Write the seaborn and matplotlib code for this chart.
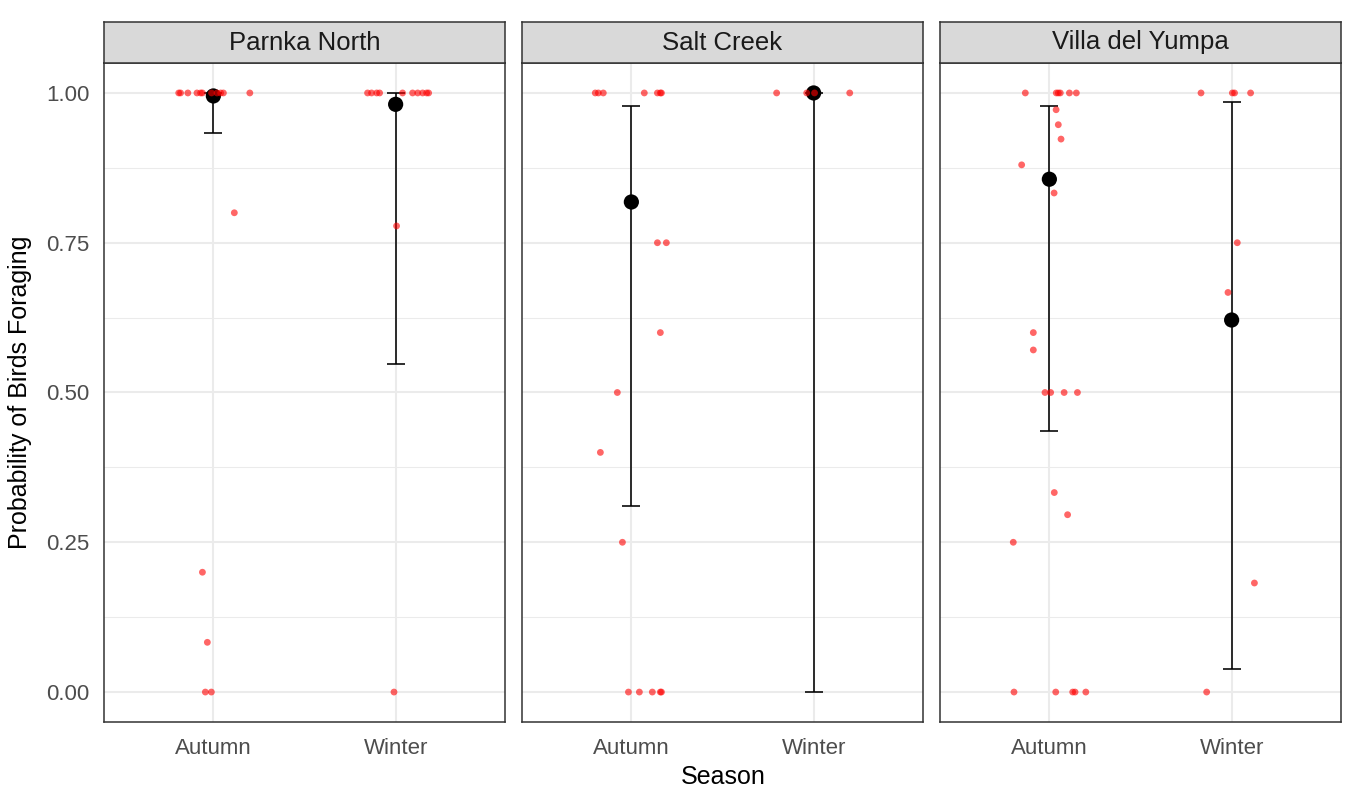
import numpy as np
import pandas as pd
import matplotlib
matplotlib.use("Agg")
import matplotlib.pyplot as plt
from matplotlib.ticker import FixedLocator
import seaborn as sns

sns.set_theme(style="white")
plt.rcParams["font.family"] = ["Liberation Sans", "DejaVu Sans"]

sites = ["Parnka North", "Salt Creek", "Villa del Yumpa"]
seasons = ["Autumn", "Winter"]
y_ticks = [0.0, 0.25, 0.5, 0.75, 1.0]
y_tick_labels = ["0.00", "0.25", "0.50", "0.75", "1.00"]

# Observed proportion foraging per survey, with horizontal jitter (category units)
parnka_autumn = [1.0] * 11 + [0.8, 0.2, 0.083, 0.0, 0.0]
parnka_autumn_jit = [-0.19, -0.18, -0.14, -0.09, -0.07, -0.06, -0.01, 0.02, 0.04, 0.055, 0.2,
                     0.115, -0.06, -0.033, -0.044, -0.011]
parnka_winter = [1.0] * 10 + [0.778, 0.0]
parnka_winter_jit = [-0.154, -0.132, -0.104, -0.088, 0.038, 0.093, 0.121, 0.148, 0.17, 0.181,
                     0.005, -0.009]

salt_autumn = [1.0] * 7 + [0.75, 0.75, 0.6, 0.5, 0.4, 0.25, 0.0, 0.0, 0.0, 0.0, 0.0]
salt_autumn_jit = [-0.198, -0.181, -0.154, 0.071, 0.143, 0.159, 0.165,
                   0.143, 0.192, 0.159, -0.077, -0.17, -0.049, -0.016, 0.044, 0.115, 0.159, 0.165]
salt_winter = [1.0, 1.0, 1.0, 1.0]
salt_winter_jit = [-0.203, -0.038, 0.005, 0.198]

villa_autumn = [1.0] * 6 + [0.972, 0.947, 0.923, 0.88, 0.833, 0.6, 0.571,
                            0.5, 0.5, 0.5, 0.5, 0.333, 0.296, 0.25, 0.0, 0.0, 0.0, 0.0, 0.0]
villa_autumn_jit = [-0.132, 0.038, 0.049, 0.06, 0.11, 0.148,
                    0.037, 0.049, 0.064, -0.152, 0.026, -0.088, -0.088,
                    -0.024, 0.007, 0.081, 0.154, 0.027, 0.1, -0.198,
                    -0.194, 0.035, 0.128, 0.141, 0.2]
villa_winter = [1.0, 1.0, 1.0, 1.0, 0.75, 0.667, 0.182, 0.0]
villa_winter_jit = [-0.168, 0.004, 0.016, 0.104, 0.031, -0.02, 0.125, -0.137]

# Model estimates and 95% intervals, ordered as in `sites`
est_autumn = [0.995, 0.818, 0.856]
lo_autumn = [0.933, 0.310, 0.436]
hi_autumn = [1.0, 0.979, 0.978]
est_winter = [0.981, 1.0, 0.621]
lo_winter = [0.547, 0.0, 0.039]
hi_winter = [1.0, 1.0, 0.985]

obs_rows = []
for site, groups in zip(sites, [
        [(parnka_autumn, parnka_autumn_jit), (parnka_winter, parnka_winter_jit)],
        [(salt_autumn, salt_autumn_jit), (salt_winter, salt_winter_jit)],
        [(villa_autumn, villa_autumn_jit), (villa_winter, villa_winter_jit)]]):
    for si, (vals, jit) in enumerate(groups):
        for v, j in zip(vals, jit):
            obs_rows.append({"site": site, "season": seasons[si], "pos": si + j, "prop": v})
obs = pd.DataFrame(obs_rows)

est = pd.DataFrame({
    "site": sites * 2,
    "season": ["Autumn"] * 3 + ["Winter"] * 3,
    "pos": [0] * 3 + [1] * 3,
    "est": est_autumn + est_winter,
    "lo": lo_autumn + lo_winter,
    "hi": hi_autumn + hi_winter,
})

W, H = 1345, 789
fig = plt.figure(figsize=(W / 100, H / 100), dpi=100)
fig.patch.set_facecolor("white")

panel_left = [104, 522, 940]
panel_w = 401
panel_top, panel_bot = 63, 722
strip_top = 22
border = "#333333"

for i, site in enumerate(sites):
    ax = fig.add_axes([panel_left[i] / W, (H - panel_bot) / H, panel_w / W, (panel_bot - panel_top) / H])
    ax.set_facecolor("white")
    ax.set_axisbelow(True)

    e = est[est["site"] == site]
    ax.errorbar(e["pos"], e["est"], yerr=[e["est"] - e["lo"], e["hi"] - e["est"]],
                fmt="none", ecolor="black", elinewidth=1.15, capsize=6.5, capthick=1.15, zorder=2)
    sns.scatterplot(data=e, x="pos", y="est", color="black", s=120, edgecolor="none",
                    ax=ax, zorder=3, legend=False)
    o = obs[obs["site"] == site]
    sns.scatterplot(data=o, x="pos", y="prop", color="#FF0000", alpha=0.6, s=24,
                    edgecolor="none", ax=ax, zorder=4, legend=False)

    ax.set_xlim(-0.6, 1.6)
    ax.set_ylim(-0.05, 1.05)
    ax.set_xticks([0, 1])
    ax.set_xticklabels(seasons)
    ax.set_yticks(y_ticks)
    ax.yaxis.set_minor_locator(FixedLocator([0.125, 0.375, 0.625, 0.875]))
    ax.grid(which="major", color="#EBEBEB", linewidth=1.45)
    ax.grid(which="minor", axis="y", color="#EBEBEB", linewidth=0.75)
    ax.set_xlabel("")
    ax.set_ylabel("")
    ax.tick_params(axis="both", which="major", length=4.3, width=1.0, color=border,
                   labelcolor="#4D4D4D", labelsize=16)
    ax.tick_params(axis="x", pad=7.5)
    ax.tick_params(axis="y", pad=6)
    ax.tick_params(which="minor", length=0)
    if i == 0:
        ax.set_yticklabels(y_tick_labels)
    else:
        ax.tick_params(axis="y", which="major", length=0, labelleft=False)
    for sp in ax.spines.values():
        sp.set_color(border)
        sp.set_linewidth(1.1)
        sp.set_visible(True)

    sax = fig.add_axes([panel_left[i] / W, (H - panel_top) / H, panel_w / W, (panel_top - strip_top) / H])
    sax.set_facecolor("#D9D9D9")
    sax.set_xticks([])
    sax.set_yticks([])
    for sp in sax.spines.values():
        sp.set_color(border)
        sp.set_linewidth(1.1)
        sp.set_visible(True)
    sax.text(0.5, 0.5, site, ha="center", va="center", fontsize=18.5, color="#1A1A1A",
             transform=sax.transAxes)

fig.text(20 / W, 1 - 392 / H, "Probability of Birds Foraging", rotation=90,
         ha="center", va="center", fontsize=18, color="black")
fig.text(723 / W, 1 - 777 / H, "Season", ha="center", va="center", fontsize=18, color="black")

fig.savefig("out.png", dpi=100, facecolor="white")
